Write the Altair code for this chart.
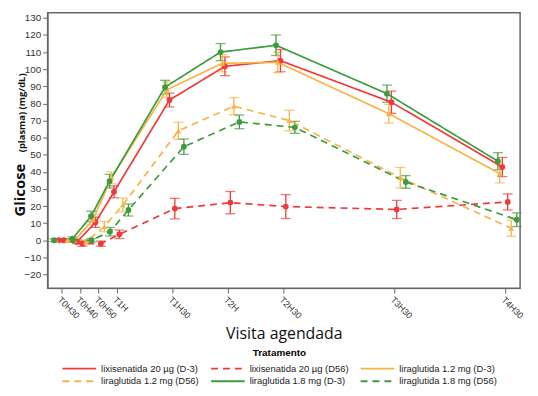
import altair as alt
import pandas as pd

# ---- data ----
times = [30, 40, 50, 60, 90, 120, 150, 210, 270]
time_labels = ["T0H30", "T0H40", "T0H50", "T1H", "T1H30", "T2H", "T2H30", "T3H30", "T4H30"]

treatments = [
    "lixisenatida 20 µg (D-3)",
    "lixisenatida 20 µg (D56)",
    "liraglutida 1.2 mg (D-3)",
    "liraglutida 1.2 mg (D56)",
    "liraglutida 1.8 mg (D-3)",
    "liraglutida 1.8 mg (D56)",
]

mean_lixi_d3 = [0, -1, 10.5, 28.3, 82, 101.7, 105, 80.7, 42.8]
err_lixi_d3 = [0.8, 1, 3, 3.5, 4, 5.5, 6.5, 6.5, 5.6]
mean_lixi_d56 = [0, -2, -2, 3.5, 18.5, 22, 19.7, 18, 22.4]
err_lixi_d56 = [0.8, 1.5, 1.5, 2.5, 6, 6.5, 7, 5.3, 4.7]
mean_lira12_d3 = [0, 0, 12, 36.5, 88, 103.5, 104, 74, 39]
err_lira12_d3 = [0.8, 1, 3, 3.5, 4.5, 5, 6, 5.5, 5.5]
mean_lira12_d56 = [0, -1, 8, 20.6, 64, 78.4, 70, 36.6, 7]
err_lira12_d56 = [0.8, 1, 3, 4, 5, 5, 6, 6, 4.7]
mean_lira18_d3 = [0, 1, 14, 34.5, 89.5, 110, 114, 85.7, 46.2]
err_lira18_d3 = [0.8, 1, 3, 4, 4, 5, 6, 5, 5]
mean_lira18_d56 = [0, 0, 5, 17.7, 54.7, 69.2, 66, 34.1, 12]
err_lira18_d56 = [0.8, 1, 2.5, 3.5, 4.5, 4, 3.5, 3.7, 4]

means = [mean_lixi_d3, mean_lixi_d56, mean_lira12_d3, mean_lira12_d56, mean_lira18_d3, mean_lira18_d56]
errs = [err_lixi_d3, err_lixi_d56, err_lira12_d3, err_lira12_d56, err_lira18_d3, err_lira18_d56]

# horizontal dodge of each treatment (minutes)
dodge = [-1.6, 1.3, -3.0, 3.2, -4.0, 6.2]

colors = ["#EE3A3A", "#EE3A3A", "#F6B446", "#F6B446", "#3E9B3E", "#3E9B3E"]
shapes = ["circle", "circle", "triangle-up", "triangle-up", "circle", "circle"]
dashes = [[1, 0], [7, 5], [1, 0], [7, 5], [1, 0], [7, 5]]

rows = []
for name, m, e, d in zip(treatments, means, errs, dodge):
    for t, v, s in zip(times, m, e):
        rows.append({"trat": name, "x": t + d, "mean": v, "lo": v - s, "hi": v + s})
df = pd.DataFrame(rows)

label_map = "{" + ",".join(f"'{t}':'{l}'" for t, l in zip(times, time_labels)) + "}"

FONT = "Liberation Sans"

xscale = alt.Scale(domain=[22.5, 278], nice=False, zero=False)
yscale = alt.Scale(domain=[-28, 133], nice=False, zero=False)
xaxis = alt.Axis(values=times, labelExpr=f"{label_map}[datum.value]", labelAngle=45,
                 labelOverlap=False, labelBound=False,
                 title="Visita agendada", titleFontSize=16, titleFontWeight=500,
                 titleColor="#111", titlePadding=5, labelFontSize=9, labelColor="#333",
                 grid=False, tickColor="#666", domainColor="#666", labelFont=FONT,
                 titleFont="Open Sans")
yaxis = alt.Axis(values=list(range(-20, 131, 10)), title=None, grid=False, labelFontSize=10,
                 labelColor="#333", tickColor="#666", domainColor="#666", labelFont=FONT)

cscale = alt.Scale(domain=treatments, range=colors)
legend = alt.Legend(title="Tratamento", orient="none", legendX=14, legendY=339,
                    columns=3, direction="horizontal",
                    titleAnchor="middle", titleFontSize=10, titleFontWeight="bold",
                    titleFont=FONT, labelFont=FONT, labelFontSize=9.5, labelColor="#222",
                    symbolType="M-3.4,0H3.4", symbolSize=100, symbolStrokeWidth=1.8,
                    symbolOffset=12, labelOffset=16,
                    rowPadding=2, columnPadding=8, titlePadding=4, labelLimit=200)

base = alt.Chart(df)

bars = base.mark_errorbar(ticks={"size": 10}, thickness=1.3).encode(
    x=alt.X("x:Q", scale=xscale, axis=xaxis),
    y=alt.Y("lo:Q", scale=yscale, axis=yaxis),
    y2="hi:Q",
    color=alt.Color("trat:N", scale=cscale, sort=treatments, legend=None),
)

lines = base.mark_line(strokeWidth=1.7).encode(
    x=alt.X("x:Q", scale=xscale, axis=xaxis),
    y=alt.Y("mean:Q", scale=yscale, axis=yaxis),
    color=alt.Color("trat:N", scale=cscale, legend=legend, sort=treatments),
    strokeDash=alt.StrokeDash("trat:N", scale=alt.Scale(domain=treatments, range=dashes),
                              legend=legend, sort=treatments),
)

points = base.mark_point(filled=True, size=34, opacity=1).encode(
    x=alt.X("x:Q", scale=xscale, axis=xaxis),
    y=alt.Y("mean:Q", scale=yscale, axis=yaxis),
    color=alt.Color("trat:N", scale=cscale, sort=treatments, legend=None),
    shape=alt.Shape("trat:N", scale=alt.Scale(domain=treatments, range=shapes), legend=None),
)

yt1 = alt.Chart(pd.DataFrame({"s": ["Glicose"]})).mark_text(
    angle=270, fontSize=15, fontWeight="bold", font="Open Sans", align="center",
    baseline="alphabetic", color="#111"
).encode(text="s:N", x=alt.value(-23), y=alt.value(179))

yt2 = alt.Chart(pd.DataFrame({"s": ["(plasma) (mg/dL)"]})).mark_text(
    angle=270, fontSize=9.5, fontWeight="bold", font="Open Sans", align="center",
    baseline="alphabetic", color="#111"
).encode(text="s:N", x=alt.value(-23), y=alt.value(101))

chart = alt.layer(bars, lines, points, yt1, yt2).resolve_legend(
    color="independent", strokeDash="independent", shape="independent"
).properties(
    width=477, height=278,
    padding={"left": 5, "top": 3, "right": 5, "bottom": 0},
).configure_view(stroke="#666", strokeWidth=1.5)

chart.save("out.html", embed_options={"renderer": "svg", "actions": False})
